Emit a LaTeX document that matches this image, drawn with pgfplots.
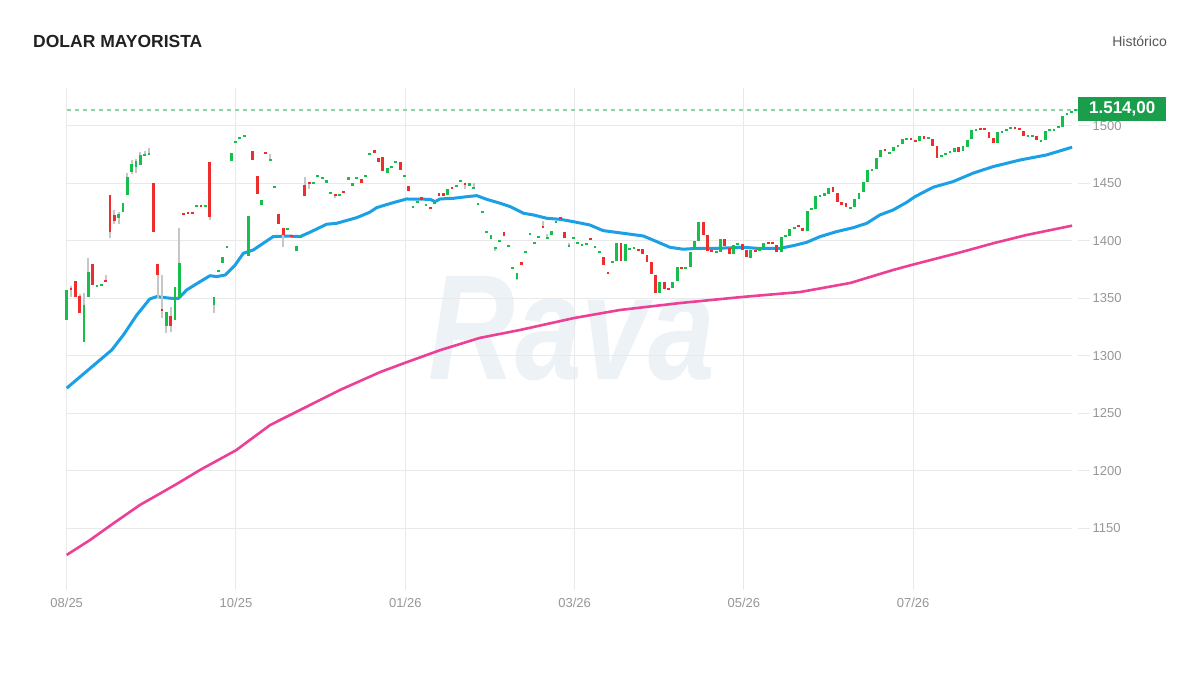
\documentclass[border=0pt]{standalone}
\usepackage{pgfplots}
\pgfplotsset{compat=1.18}
\usepackage{pgfplotstable}
\usepackage{fontspec}
\setmainfont{Liberation Sans}

\definecolor{cgreen}{RGB}{22,190,75}
\definecolor{cred}{RGB}{240,45,45}
\definecolor{cwick}{RGB}{198,198,198}
\definecolor{cblue}{RGB}{27,160,230}
\definecolor{cpink}{RGB}{236,64,150}
\definecolor{cgrid}{RGB}{233,233,233}
\definecolor{ctick}{RGB}{150,150,150}
\definecolor{cbox}{RGB}{26,158,75}
\definecolor{cdash}{RGB}{140,215,160}
\definecolor{cwater}{RGB}{237,242,246}
\definecolor{ctitle}{RGB}{34,34,34}
\definecolor{chist}{RGB}{85,85,85}

% up candles: x open close
\pgfplotstableread{
x o c
0 1331 1357
4 1312 1344
5 1351 1373
7 1360 1361
8 1361 1363
12 1420 1423.5
13 1425 1433
14 1440 1456
15 1460 1467
16 1464 1469.5
17 1466 1475
18 1474 1475.5
19 1475 1476
23 1326 1338
25 1331 1360
26 1350 1380.5
30 1429.5 1431.5
32 1429.5 1430.5
34 1344 1351
35 1373 1374.5
36 1381 1386
37 1394.5 1395.5
38 1469.5 1476.7
39 1485 1486.5
40 1489 1490.5
41 1490.7 1491.7
42 1386.5 1422
45 1431.5 1435.5
47 1470 1471.5
48 1446.5 1447.5
51 1410 1411
53 1391 1395.3
54 1403.3 1404.3
57 1450 1451
58 1456 1457
59 1454.2 1455.2
60 1451.2 1452.2
61 1440.8 1441.8
63 1439.6 1440.6
65 1452.6 1455.5
66 1448.6 1449.6
67 1454.4 1455.4
69 1456 1457
70 1474.8 1475.8
74 1459 1463.2
75 1464.1 1465.1
76 1467.9 1468.9
78 1456 1457
80 1429.2 1430.2
81 1433.5 1434.5
83 1430.6 1431.6
85 1432.6 1433.6
88 1439.8 1445
90 1446.9 1447.9
91 1451.5 1452.5
93 1448.6 1449.6
94 1445.7 1446.7
95 1431.8 1432.8
96 1424.8 1425.8
97 1407.3 1408.3
98 1401.4 1405.2
99 1393.4 1394.4
100 1399.5 1400.5
102 1395.4 1396.4
103 1376 1377
104 1366.6 1371.8
106 1389.9 1390.9
107 1405.6 1406.6
108 1397.5 1398.5
109 1403 1404
111 1402.4 1403.4
112 1404.9 1408.7
113 1416.1 1417.1
116 1395.1 1396.1
117 1402.1 1403.1
118 1398 1399
119 1396.3 1397.3
120 1396.9 1397.9
122 1394.5 1395.5
123 1389.9 1390.9
126 1381.5 1382.5
127 1382.6 1398
129 1382.6 1397.4
130 1392.8 1393.8
131 1393.1 1394.1
137 1354.4 1364.2
140 1359 1364.2
141 1364.8 1377.6
143 1376 1377
144 1377.6 1390.7
145 1392.2 1399.7
146 1399.7 1416.6
150 1389.6 1390.6
151 1390.7 1402
154 1388.4 1396.2
155 1396.9 1397.9
158 1385.2 1392.4
160 1391.6 1393.9
161 1395 1398
165 1390.4 1403.8
166 1404.2 1405.2
167 1404.7 1410.5
168 1410.8 1411.8
171 1409 1425.9
172 1427.4 1428.4
173 1427.9 1439.2
174 1438.7 1439.7
175 1439.9 1440.9
176 1440.4 1446.2
181 1428.3 1429.3
182 1429.9 1436.9
183 1436.9 1441.3
184 1442.2 1450.9
185 1450.9 1461.9
186 1461.1 1462.1
187 1462.2 1471.8
188 1473 1479.4
190 1476.2 1477.2
191 1478.2 1481.7
192 1481.8 1482.8
193 1484.6 1488.7
194 1488.2 1489.2
197 1487.2 1491.6
199 1489.4 1490.4
202 1473.1 1474.1
203 1475.1 1476.1
204 1476.9 1477.9
205 1477.7 1481.2
207 1478.6 1482.3
208 1482 1487.8
209 1488.4 1496.8
210 1496.3 1497.3
215 1485.2 1495.1
216 1494.5 1495.5
217 1496.3 1497.3
218 1498.1 1499.1
222 1491.1 1492.1
223 1491.1 1492.1
225 1486.5 1487.5
226 1487.5 1495.7
227 1496 1497
228 1496.3 1497.3
229 1498.3 1499.3
230 1499.1 1509
231 1510.2 1511.2
232 1512 1513
233 1513.5 1514.5
}\upcandles

% down candles: x open close
\pgfplotstableread{
x o c
1 1359 1357
2 1365 1351
3 1352 1337
6 1380 1362
9 1366 1364
10 1440 1408
11 1423 1417
20 1450 1408
21 1380 1370
22 1341 1339
24 1335 1326
27 1424.5 1423
28 1425 1424
29 1425 1424
31 1430.5 1429.5
33 1468.6 1420.6
43 1478.5 1470
44 1456.7 1440.5
46 1477 1476
49 1423.8 1414.8
50 1411 1405
52 1404.5 1403.5
55 1449 1439.5
56 1450.5 1449.5
62 1440.5 1439.5
64 1442.9 1441.9
68 1453.5 1450
71 1479.4 1476.5
72 1472 1468.4
73 1473 1460.5
77 1468.4 1461.7
79 1448 1443.3
82 1437.4 1436.4
84 1429 1428
86 1440.9 1439.9
87 1440.9 1439.9
89 1446.7 1445.7
92 1450.3 1448.8
101 1407.8 1404.4
105 1381.7 1378.8
110 1413 1412
114 1420.6 1419.6
115 1407.8 1402.6
121 1402.5 1401.5
124 1385.8 1379
125 1372.5 1371.5
128 1398 1382.6
132 1392.7 1391.7
133 1392.7 1388.7
134 1388 1381.7
135 1381.7 1371.2
136 1370 1354.4
138 1364.2 1358.4
139 1358.9 1357.9
142 1377 1376
147 1416.6 1405.2
148 1405.5 1391
149 1391.5 1390.5
152 1402 1395.6
153 1393.9 1388.4
156 1397.7 1392.2
157 1392.4 1385.8
159 1392.1 1391.1
162 1398.5 1397.5
163 1398.5 1397.5
164 1396.8 1390.4
169 1413.6 1412.6
170 1411.3 1409
177 1446.8 1442.7
178 1441.3 1434
179 1433.1 1432.1
180 1433.1 1429.9
189 1479.9 1478.9
195 1489 1488
196 1487.7 1486.7
198 1491.6 1488.4
200 1488.7 1482.9
201 1482.9 1472.5
206 1481.7 1477.7
211 1498.2 1497.2
212 1497.9 1496.9
213 1495.1 1489.3
214 1489.3 1485.2
219 1499.1 1498.1
220 1497.9 1496.9
221 1495.7 1491
224 1491.6 1487.5
}\downcandles

% wicks: x high low
\pgfplotstableread{
x h l
1 1361 1351
3 1354 1337
4 1355 1312
5 1385 1351
9 1370 1364
10 1440 1403
11 1427 1415
12 1425 1415
14 1459 1440
15 1470 1458
16 1471 1459
17 1477 1466
18 1478 1474
19 1480.5 1475
21 1380 1350
22 1370.6 1333
23 1338 1320
24 1343 1320.6
26 1411 1350
33 1468.6 1418
34 1351 1337
47 1476 1470
50 1411 1395
55 1456 1439.5
56 1450.5 1445
62 1440.5 1437
92 1450.3 1445.6
94 1450 1445.7
99 1394.4 1391.3
104 1371.8 1365.7
110 1417.4 1412
111 1406.4 1402.4
116 1398.5 1395.1
}\wicks

% short moving average
\pgfplotstableread{
x y
0 1272
10.4 1305.2
13.1 1318.3
16.2 1335.7
19.2 1349.6
20.8 1351.6
23.9 1350.2
25.8 1350
27.7 1357.4
30.8 1364.6
33.1 1369.8
34.6 1369
36.6 1370.4
38.9 1379.1
40.8 1389.3
43.1 1392.2
45.4 1398
47.7 1403.8
50.8 1404.3
53.9 1403.8
56.2 1407.6
60 1414.5
62.4 1415.4
67 1420.3
70 1425
71.6 1429
75.4 1433.3
78.5 1436.5
83.9 1436.2
85.1 1434.2
86.2 1436.5
89.3 1437.1
92.4 1438.5
94.7 1439.4
97 1436.2
100.1 1432.8
102.4 1429.9
105.5 1424.1
107.8 1422.6
110.9 1419.7
114 1418.8
117 1416.8
120.8 1413.9
123.9 1409
128.5 1406.7
133.2 1404.3
136.3 1399.4
139.3 1394.5
142.4 1392.8
145.5 1393.6
150.1 1393.6
156.3 1394.5
159.4 1393.6
164.7 1393.6
167.8 1395.9
170.9 1398.8
174 1403.8
177.8 1408.1
181.7 1411.6
184.8 1415.4
187.8 1422.6
190.9 1427
194 1433.6
195.9 1438.5
200.1 1446.7
204.7 1451.6
209.3 1458.9
213.9 1464.6
220.2 1470.4
226.3 1474.8
232.2 1481.5
}\maShort

% long moving average
\pgfplotstableread{
x y
0 1127
5.4 1140
10.8 1154.5
16.9 1170.4
25 1187.8
30.8 1200.9
39.1 1218
47 1240
53.9 1253
63.1 1270.4
72.4 1286
78.1 1294
86.2 1305
95.4 1315.7
104.7 1322.6
117.2 1333
127.8 1340
141.6 1346
156 1351.3
169.4 1355.6
181 1363.5
190.9 1374.8
195 1379
206.3 1390
214 1398
221.7 1405.2
232.2 1413.3
}\maLong

\begin{document}
\begin{tikzpicture}[x=1pt,y=1pt]
\useasboundingbox (0,0) rectangle (1200,677);
\node[anchor=base west, inner sep=0, font=\fontsize{17.5}{20}\selectfont\bfseries, text=ctitle] at (33,629.5) {DOLAR MAYORISTA};
\node[anchor=base east, inner sep=0, font=\fontsize{14}{16}\selectfont, text=chist] at (1167,630) {Histórico};
\node[inner sep=0, font=\fontsize{150}{150}\selectfont\bfseries\itshape, text=cwater, xscale=0.8] at (572,348) {Rava};
\begin{axis}[
  at={(66.7pt,91pt)}, anchor=south west, scale only axis,
  width=1005.4pt, height=498pt,
  xmin=0, xmax=232.2, ymin=1100, ymax=1533,
  clip=false,
  axis line style={draw=none},
  grid=major, grid style={cgrid, line width=1pt},
  xtick={0,39.1,78.2,117.3,156.4,195.5},
  xticklabels={08/25,10/25,01/26,03/26,05/26,07/26},
  ytick={1150,1200,1250,1300,1350,1400,1450,1500},
  xtick pos=bottom, ytick pos=right, yticklabel pos=right,
  tick align=outside, major tick length=4pt,
  xtick style={draw=cgrid, line width=1pt},
  ytick style={draw=none},
  ticklabel style={font=\fontsize{13}{13}\selectfont, text=ctick},
  xticklabel style={yshift=-5pt},
  yticklabel style={anchor=west, xshift=13pt},
  /pgf/number format/assume math mode=true,
  /pgf/number format/1000 sep={},
]
\pgfplotsinvokeforeach{1150,1200,1250,1300,1350,1400,1450,1500}{
  \draw[cgrid, line width=1pt] ([xshift=6pt]axis cs:232.2,#1) -- ([xshift=18pt]axis cs:232.2,#1);
}
\addplot[cdash, line width=1.6pt, dash pattern=on 4pt off 4pt] coordinates {(0,1514) (233.6,1514)};
\addplot[cpink, line width=2.6pt, line join=round] table[x=x, y=y] {\maLong};
\addplot[cblue, line width=3pt, line join=round] table[x=x, y=y] {\maShort};
\addplot[draw=none, mark=none, error bars/.cd, y dir=both, y explicit, error mark=none,
  error bar style={draw=cwick, line width=2pt}]
  table[x=x, y expr={(\thisrow{h}+\thisrow{l})/2}, y error expr={(\thisrow{h}-\thisrow{l})/2}] {\wicks};
\addplot[draw=none, mark=none, error bars/.cd, y dir=both, y explicit, error mark=none,
  error bar style={draw=cgreen, line width=2.8pt}]
  table[x=x, y expr={(\thisrow{o}+\thisrow{c})/2}, y error expr={max(abs(\thisrow{o}-\thisrow{c})/2,0.9)}] {\upcandles};
\addplot[draw=none, mark=none, error bars/.cd, y dir=both, y explicit, error mark=none,
  error bar style={draw=cred, line width=2.8pt}]
  table[x=x, y expr={(\thisrow{o}+\thisrow{c})/2}, y error expr={max(abs(\thisrow{o}-\thisrow{c})/2,0.9)}] {\downcandles};
\end{axis}
\node[fill=cbox, text=white, font=\fontsize{17}{17}\selectfont\bfseries, minimum width=88pt, minimum height=24pt, inner sep=0, anchor=west] at (1078,568) {1.514,00};
\end{tikzpicture}
\end{document}
